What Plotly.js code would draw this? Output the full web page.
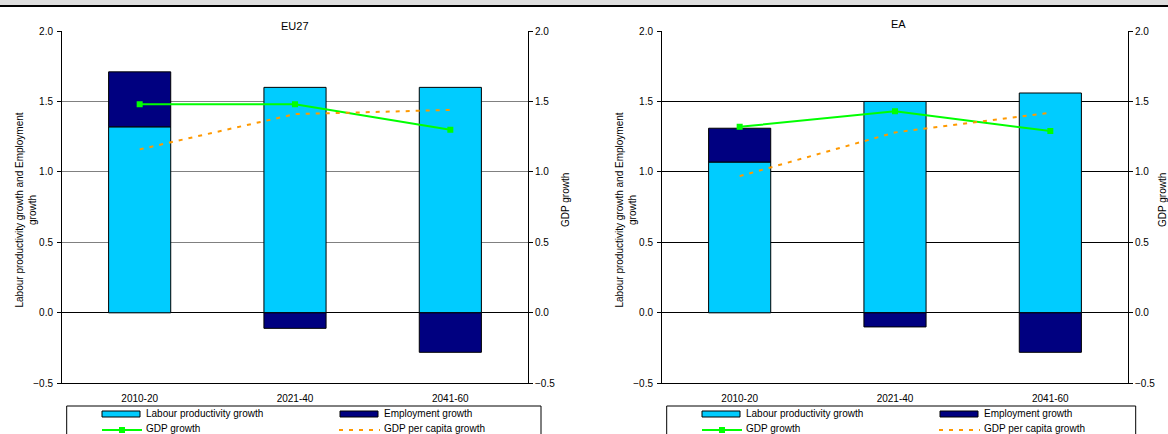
<!DOCTYPE html>
<html>
<head>
<meta charset="utf-8">
<script src="https://cdn.plot.ly/plotly-3.0.1.min.js"></script>
<style>
html,body{margin:0;padding:0;background:#fff;}
#chart{width:1168px;height:434px;}
</style>
</head>
<body>
<div id="chart"></div>
<script>
// ---- data ----
const categories = ['2010-20', '2021-40', '2041-60'];
const eu27Labour = [1.32, 1.60, 1.60];
const eu27Employment = [0.39, -0.11, -0.28];
const eu27Gdp = [1.48, 1.48, 1.30];
const eu27GdpPerCapita = [1.16, 1.41, 1.44];
const eaLabour = [1.07, 1.50, 1.56];
const eaEmployment = [0.24, -0.10, -0.28];
const eaGdp = [1.32, 1.43, 1.29];
const eaGdpPerCapita = [0.97, 1.28, 1.42];
const panelTitles = ['EU27', 'EA'];
const seriesNames = ['Labour productivity growth', 'Employment growth', 'GDP growth', 'GDP per capita growth'];
const leftAxisTitle = 'Labour productivity growth and Employment<br>growth';
const rightAxisTitle = 'GDP growth';

// ---- styling helpers ----
const W = 1168, H = 434;
const X = px => px / W;
const Y = py => 1 - py / H;
const FONT = 'Liberation Sans, Arial, sans-serif';
const cLabour = '#00CCFF', cEmp = '#000080', cGdp = '#00FF00', cPc = '#FF9900';

function panelTraces(xa, ya, ya2, lab, emp, gdp, pc) {
  return [
    {type: 'bar', x: categories, y: lab, name: seriesNames[0], xaxis: xa, yaxis: ya,
     marker: {color: cLabour, line: {color: '#000', width: 1}}, hoverinfo: 'y'},
    {type: 'bar', x: categories, y: emp, name: seriesNames[1], xaxis: xa, yaxis: ya,
     marker: {color: cEmp, line: {color: '#000', width: 1}}, hoverinfo: 'y'},
    {type: 'scatter', mode: 'lines+markers', x: categories, y: gdp, name: seriesNames[2], xaxis: xa, yaxis: ya2,
     line: {color: cGdp, width: 2}, marker: {symbol: 'square', size: 6, color: cGdp}},
    {type: 'scatter', mode: 'lines', x: categories, y: pc, name: seriesNames[3], xaxis: xa, yaxis: ya2,
     line: {color: cPc, width: 2, dash: '4px,6px'}}
  ];
}

const data = [].concat(
  panelTraces('x', 'y', 'y2', eu27Labour, eu27Employment, eu27Gdp, eu27GdpPerCapita),
  panelTraces('x2', 'y3', 'y4', eaLabour, eaEmployment, eaGdp, eaGdpPerCapita)
);

const yDomain = [Y(383.3), Y(31)];
const tickFont = {family: FONT, size: 10, color: '#000'};

function yLeft(anchor, grid) {
  return {anchor: anchor, domain: yDomain, range: [-0.5, 2.0], dtick: 0.5, tick0: 0, tickformat: '.1f',
    ticks: 'outside', ticklen: 4, tickcolor: '#000', showline: true, linecolor: '#000', linewidth: 1,
    showgrid: true, gridcolor: grid, gridwidth: 1, zeroline: true, zerolinecolor: '#000', zerolinewidth: 1,
    tickfont: tickFont, fixedrange: true, ticklabelstandoff: 2};
}
function yRight(anchor, over) {
  return {anchor: anchor, overlaying: over, side: 'right', range: [-0.5, 2.0], dtick: 0.5, tick0: 0, tickformat: '.1f',
    ticks: 'outside', ticklen: 4, tickcolor: '#000', showline: true, linecolor: '#000', linewidth: 1,
    showgrid: false, zeroline: false, tickfont: tickFont, fixedrange: true};
}
function xAxis(anchor, d) {
  return {anchor: anchor, domain: d, type: 'category', showline: true, linecolor: '#000', linewidth: 1,
    ticks: '', showgrid: false, tickfont: tickFont, fixedrange: true, ticklabelstandoff: 6};
}

// header band and legend drawn as a framed box below each panel
const shapes = [
  {type: 'rect', xref: 'paper', yref: 'paper', x0: 0, x1: 1, y0: Y(5), y1: Y(0), fillcolor: '#dedede', line: {width: 0}, layer: 'above'},
  {type: 'line', xref: 'paper', yref: 'paper', x0: 0, x1: 1, y0: Y(6), y1: Y(6), line: {color: '#000', width: 2}}
];
const annotations = [];

function addLegend(boxL, boxR, off) {
  shapes.push({type: 'rect', xref: 'paper', yref: 'paper', x0: X(boxL), x1: X(boxR), y0: Y(445), y1: Y(406),
    line: {color: '#000', width: 1}, fillcolor: 'rgba(0,0,0,0)'});
  shapes.push({type: 'rect', xref: 'paper', yref: 'paper', x0: X(102 + off), x1: X(140 + off), y0: Y(417), y1: Y(411),
    fillcolor: cLabour, line: {color: '#000', width: 1}});
  shapes.push({type: 'rect', xref: 'paper', yref: 'paper', x0: X(340 + off), x1: X(378 + off), y0: Y(417), y1: Y(411),
    fillcolor: cEmp, line: {color: '#000', width: 1}});
  shapes.push({type: 'line', xref: 'paper', yref: 'paper', x0: X(102 + off), x1: X(142 + off), y0: Y(430), y1: Y(430),
    line: {color: cGdp, width: 2}});
  shapes.push({type: 'rect', xref: 'paper', yref: 'paper', x0: X(119 + off), x1: X(125 + off), y0: Y(433), y1: Y(427),
    fillcolor: cGdp, line: {width: 0}});
  shapes.push({type: 'line', xref: 'paper', yref: 'paper', x0: X(339 + off), x1: X(380 + off), y0: Y(430), y1: Y(430),
    line: {color: cPc, width: 2, dash: '4px,6px'}});
  const lf = {family: FONT, size: 10, color: '#000'};
  const items = [[seriesNames[0], 144, 413.5], [seriesNames[1], 382, 413.5], [seriesNames[2], 144, 428], [seriesNames[3], 382, 428]];
  items.forEach(it => annotations.push({text: it[0], xref: 'paper', yref: 'paper', x: X(it[1] + off), y: Y(it[2]),
    xanchor: 'left', yanchor: 'middle', showarrow: false, font: lf}));
}
addLegend(66.7, 541, 0);
addLegend(666.7, 1135.7, 600);

// panel titles and axis titles
const tf = {family: FONT, size: 11, color: '#000'};
annotations.push({text: panelTitles[0], xref: 'paper', yref: 'paper', x: X(295), y: Y(26), xanchor: 'center', yanchor: 'middle', showarrow: false, font: tf});
annotations.push({text: panelTitles[1], xref: 'paper', yref: 'paper', x: X(898), y: Y(24), xanchor: 'center', yanchor: 'middle', showarrow: false, font: tf});
const af = {family: FONT, size: 10, color: '#000'};
[[25.5, 565], [625.5, 1162]].forEach(p => {
  annotations.push({text: leftAxisTitle, xref: 'paper', yref: 'paper', x: X(p[0]), y: Y(210), textangle: -90,
    xanchor: 'center', yanchor: 'middle', showarrow: false, font: af, align: 'center'});
  annotations.push({text: rightAxisTitle, xref: 'paper', yref: 'paper', x: X(p[1]), y: Y(200), textangle: -90,
    xanchor: 'center', yanchor: 'middle', showarrow: false, font: af});
});

const layout = {
  width: W, height: H,
  margin: {l: 0, r: 0, t: 0, b: 0},
  paper_bgcolor: '#fff', plot_bgcolor: '#fff',
  showlegend: false,
  barmode: 'relative', bargap: 0.6,
  font: {family: FONT, size: 10, color: '#000'},
  xaxis: xAxis('y', [X(62), X(528)]),
  yaxis: yLeft('x', '#808080'),
  yaxis2: yRight('x', 'y'),
  xaxis2: xAxis('y3', [X(662), X(1128)]),
  yaxis3: yLeft('x2', '#000'),
  yaxis4: yRight('x2', 'y3'),
  shapes: shapes,
  annotations: annotations
};

Plotly.newPlot('chart', data, layout, {displayModeBar: false, staticPlot: true});
</script>
</body>
</html>
